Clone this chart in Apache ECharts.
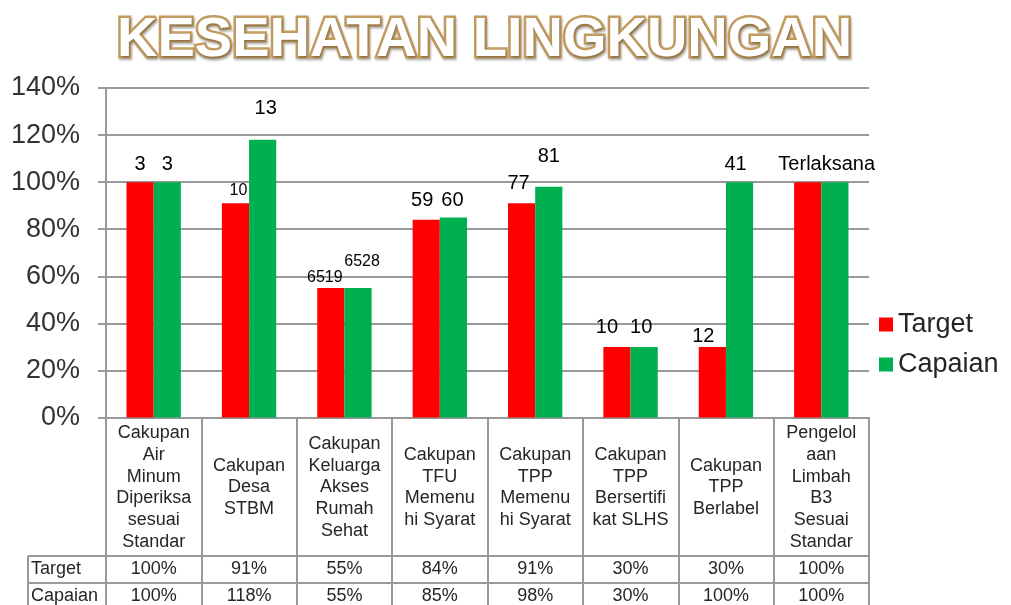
<!DOCTYPE html>
<html>
<head>
<meta charset="utf-8">
<script src="https://cdn.jsdelivr.net/npm/echarts@6/dist/echarts.min.js"></script>
<style>
  html, body { margin: 0; padding: 0; background: #fff; }
  #main { width: 1011px; height: 605px; }
</style>
</head>
<body>
<div id="main"></div>
<script>
// data
var categories = [
    'Cakupan\nAir\nMinum\nDiperiksa\nsesuai\nStandar',
    'Cakupan\nDesa\nSTBM',
    'Cakupan\nKeluarga\nAkses\nRumah\nSehat',
    'Cakupan\nTFU\nMemenu\nhi Syarat',
    'Cakupan\nTPP\nMemenu\nhi Syarat',
    'Cakupan\nTPP\nBersertifi\nkat SLHS',
    'Cakupan\nTPP\nBerlabel',
    'Pengelol\naan\nLimbah\nB3\nSesuai\nStandar'
];
var seriesNames = ['Target', 'Capaian'];
var target = [100, 91, 55, 84, 91, 30, 30, 100];
var capaian = [100, 118, 55, 85, 98, 30, 100, 100];
var targetLabels = ['3', '10', '6519', '59', '77', '10', '12', 'Terlaksana'];
var capaianLabels = ['3', '13', '6528', '60', '81', '10', '41', ''];
var yTicks = [0, 20, 40, 60, 80, 100, 120, 140];

// layout
var gridLeft = 106, gridRight = 142, gridTop = 88, gridBottom = 187;
var rowH = 27;
var catH = 138;
var lineColor = '#999';
var textColor = '#262626';

// tweaks so the labels sit like in the picture: [dx, dy, fontSize]
var targetLabelPos = [[0, -3, 20], [3, 0, 16], [-6, 3, 16], [-4, -4, 20], [-3, -5, 20], [-10, -4, 20], [-9, 5, 20], [19, -3, 20]];
var capaianLabelPos = [[0, -3, 20], [3, -16, 20], [4, -13, 16], [-1, -2, 20], [0, -15, 20], [-3, -4, 20], [-4, -3, 20], [0, 0, 20]];

function makeData(values, labels, pos) {
    return values.map(function (v, i) {
        return {
            value: v,
            label: {
                formatter: labels[i],
                offset: [pos[i][0], pos[i][1]],
                fontSize: pos[i][2]
            }
        };
    });
}

var myChart = echarts.init(document.getElementById('main'));

var tableRow = function (values, offset) {
    return {
        type: 'category',
        data: categories,
        position: 'bottom',
        offset: offset,
        axisLine: { show: true, onZero: false, lineStyle: { color: lineColor, width: 2 } },
        axisTick: { show: false },
        axisLabel: {
            interval: 0,
            margin: rowH / 2,
            verticalAlign: 'middle',
            fontSize: 18,
            fontFamily: 'Liberation Sans',
            color: textColor,
            formatter: function (val, idx) { return values[idx] + '%'; }
        }
    };
};

var option = {
    animation: false,
    backgroundColor: '#fff',
    title: {
        text: 'KESEHATAN LINGKUNGAN',
        left: 112,
        top: 8,
        textStyle: {
            fontFamily: 'Liberation Sans',
            fontWeight: 'bold',
            fontSize: 56,
            color: '#fff',
            textBorderColor: '#c29b5f',
            textBorderWidth: 5,
            textShadowColor: 'rgba(0,0,0,0.25)',
            textShadowBlur: 2,
            textShadowOffsetX: 1,
            textShadowOffsetY: 2
        }
    },
    legend: {
        data: seriesNames,
        orient: 'vertical',
        left: 874,
        top: 306,
        itemGap: 13,
        itemWidth: 14,
        itemHeight: 14,
        icon: 'rect',
        textStyle: { fontSize: 27, fontFamily: 'Liberation Sans', color: textColor }
    },
    grid: { left: gridLeft, right: gridRight, top: gridTop, bottom: gridBottom, containLabel: false },
    xAxis: [
        {
            type: 'category',
            data: categories,
            position: 'bottom',
            axisLine: { show: true, onZero: false, lineStyle: { color: lineColor, width: 2 } },
            axisTick: { show: true, interval: 0, length: 200, lineStyle: { color: lineColor, width: 2 } },
            axisLabel: {
                interval: 0,
                margin: catH / 2 + 1,
                verticalAlign: 'middle',
                fontSize: 18,
                lineHeight: 21.7,
                fontFamily: 'Liberation Sans',
                color: textColor
            }
        },
        tableRow(target, catH),
        tableRow(capaian, catH + rowH)
    ],
    yAxis: {
        type: 'value',
        min: yTicks[0],
        max: yTicks[yTicks.length - 1],
        interval: yTicks[1] - yTicks[0],
        axisLine: { show: true, lineStyle: { color: lineColor, width: 2 } },
        axisTick: { show: true, length: 8, lineStyle: { color: lineColor, width: 2 } },
        splitLine: { lineStyle: { color: lineColor, width: 2 } },
        axisLabel: {
            margin: 26,
            fontSize: 27,
            fontFamily: 'Liberation Sans',
            color: '#333',
            formatter: '{value}%'
        }
    },
    series: [
        {
            name: seriesNames[0],
            type: 'bar',
            xAxisIndex: 0,
            barGap: '0%',
            barCategoryGap: '43%',
            itemStyle: { color: '#ff0000' },
            label: { show: true, position: 'top', distance: 5, color: '#000', fontFamily: 'Liberation Sans' },
            data: makeData(target, targetLabels, targetLabelPos)
        },
        {
            name: seriesNames[1],
            type: 'bar',
            xAxisIndex: 0,
            barGap: '0%',
            barCategoryGap: '43%',
            itemStyle: { color: '#00b050' },
            label: { show: true, position: 'top', distance: 5, color: '#000', fontFamily: 'Liberation Sans' },
            data: makeData(capaian, capaianLabels, capaianLabelPos)
        }
    ],
    // row headers of the data table
    graphic: [
        { type: 'line', shape: { x1: 28, y1: 605 - gridBottom + catH, x2: gridLeft, y2: 605 - gridBottom + catH }, style: { stroke: lineColor, lineWidth: 2 } },
        { type: 'line', shape: { x1: 28, y1: 605 - gridBottom + catH + rowH, x2: gridLeft, y2: 605 - gridBottom + catH + rowH }, style: { stroke: lineColor, lineWidth: 2 } },
        { type: 'line', shape: { x1: 28, y1: 605 - gridBottom + catH, x2: 28, y2: 610 }, style: { stroke: lineColor, lineWidth: 2 } },
        { type: 'text', x: 31, y: 605 - gridBottom + catH + rowH / 2, style: { text: seriesNames[0], font: '18px "Liberation Sans"', fill: textColor, verticalAlign: 'middle' } },
        { type: 'text', x: 31, y: 605 - gridBottom + catH + rowH * 1.5, style: { text: seriesNames[1], font: '18px "Liberation Sans"', fill: textColor, verticalAlign: 'middle' } }
    ]
};

myChart.setOption(option);
</script>
</body>
</html>
